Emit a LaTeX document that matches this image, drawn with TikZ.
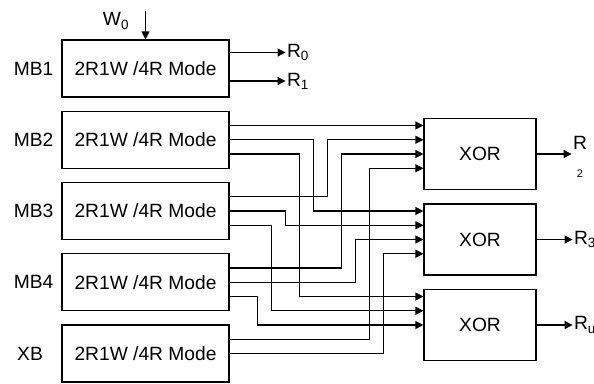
\documentclass[tikz,border=0pt]{standalone}
\usepackage{fontspec}
\setmainfont{Liberation Sans}
\usetikzlibrary{arrows.meta}

\begin{document}
\begin{tikzpicture}[x=1pt,y=-1pt,font=\fontsize{19.2}{23}\selectfont,line width=1.1pt,
  mode/.style={draw,minimum width=167pt,minimum height=57pt,inner sep=0pt},
  xorbox/.style={draw,minimum width=112pt,minimum height=71pt,inner sep=0pt},
  lab/.style={inner sep=1pt},
  wire/.style={-{Triangle[length=8pt,width=8pt]}}]
  \useasboundingbox (0,0) rectangle (594,383);
  % memory banks
  \foreach \n/\t/\y/\lx in {mb1/MB1/68.5/33.5, mb2/MB2/139.75/33.5, mb3/MB3/211/33.5,
      mb4/MB4/282.25/33.5, xb/XB/353.5/30} {
    \node[mode] (\n) at (145.5,\y) {2R1W /4R Mode};
    \node[lab] (\n-lab) at (\lx,\y) {\t};
  }
  \foreach \n in {mb2,mb3,mb4,xb} {
    \coordinate (\n-1) at ([yshift=14.25pt]\n.east);
    \coordinate (\n-2) at (\n.east);
    \coordinate (\n-3) at ([yshift=-14.25pt]\n.east);
  }
  \coordinate (mb1-1) at ([yshift=16pt]mb1.east);
  \coordinate (mb1-2) at ([yshift=-12.5pt]mb1.east);
  % xor gates
  \foreach \n/\y in {x1/154, x2/239.5, x3/325} {
    \node[xorbox] (\n) at (480,\y) {XOR};
    \coordinate (\n-1) at ([yshift=28.5pt]\n.west);
    \coordinate (\n-2) at ([yshift=14.25pt]\n.west);
    \coordinate (\n-3) at (\n.west);
    \coordinate (\n-4) at ([yshift=-14.25pt]\n.west);
  }
  % write port and direct reads
  \node[lab] (w0) at (116,21) {W\textsubscript{0}};
  \coordinate (win) at ([yshift=28pt]mb1.north);
  \draw[wire] (win) -- (mb1);
  \node[lab,anchor=west] (r0) at ([xshift=56pt]mb1-1) {R\textsubscript{0}};
  \node[lab,anchor=west] (r1) at ([xshift=56pt]mb1-2) {R\textsubscript{1}};
  \draw[wire] (mb1-1) -- (r0);
  \draw[wire] (mb1-2) -- (r1);
  % wires to the xor gates
  \draw[wire] (mb2-1) -- (x1-1);
  \draw[wire] (mb2-2) -- ++(84,0) |- (x2-1);
  \draw[wire] (mb2-3) -- ++(70,0) |- (x3-1);
  \draw[wire] (mb3-1) -- ++(98,0) |- (x1-2);
  \draw[wire] (mb3-2) -- ++(56,0) |- (x2-2);
  \draw[wire] (mb3-3) -- ++(42,0) |- (x3-2);
  \draw[wire] (mb4-1) -- ++(112,0) |- (x1-3);
  \draw[wire] (mb4-2) -- ++(126,0) |- (x2-3);
  \draw[wire] (mb4-3) -- ++(28,0) |- (x3-3);
  \draw[wire] (xb-1) -- ++(140,0) |- (x1-4);
  \draw[wire] (xb-2) -- ++(154,0) |- (x2-4);
  % xor outputs
  \node[lab,anchor=west,align=center] (r2) at ([xshift=35pt,yshift=-3pt]x1.east)
    {R\\[5pt]{\fontsize{11}{13}\selectfont 2}};
  \node[lab,anchor=west] (r3) at ([xshift=36pt]x2.east) {R\textsubscript{3}};
  \node[lab,anchor=west] (r4) at ([xshift=36pt]x3.east) {R\textsubscript{u}};
  \draw[wire] (x1.east) -- (x1.east -| r2.west);
  \draw[wire] (x2) -- (r3);
  \draw[wire] (x3) -- (r4);
\end{tikzpicture}
\end{document}
